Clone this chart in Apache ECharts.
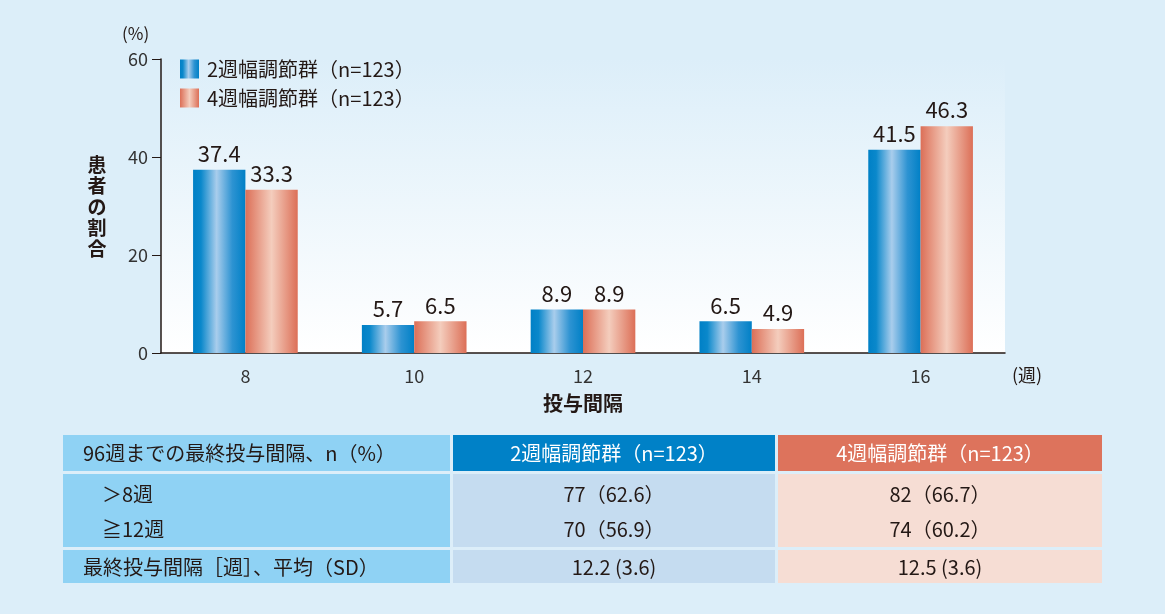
<!DOCTYPE html>
<html>
<head>
<meta charset="utf-8">
<script src="https://cdn.jsdelivr.net/npm/echarts@6/dist/echarts.min.js"></script>
<style>
html,body{margin:0;padding:0;background:#dceef9;}
#box{width:1165px;height:614px;}
</style>
</head>
<body>
<div id="box"></div>
<script>
var categories = ['8', '10', '12', '14', '16'];
var group2w = [37.4, 5.7, 8.9, 6.5, 41.5];
var group4w = [33.3, 6.5, 8.9, 4.9, 46.3];
var seriesNames = ['2週幅調節群（n=123）', '4週幅調節群（n=123）'];
var yTicks = [0, 20, 40, 60];

// table below the chart
var tableHead = ['96週までの最終投与間隔、n（%）', '2週幅調節群（n=123）', '4週幅調節群（n=123）'];
var rowLabels = ['＞8週', '≧12週'];
var rows2w = ['77（62.6）', '70（56.9）'];
var rows4w = ['82（66.7）', '74（60.2）'];
var meanLabel = '最終投与間隔［週］、平均（SD）';
var mean2w = '12.2 (3.6)';
var mean4w = '12.5 (3.6)';

var font = '"Noto Sans CJK JP", "Noto Sans", sans-serif';
var ink = '#231815';

var blueGrad = new echarts.graphic.LinearGradient(0, 0, 1, 0, [
  {offset: 0, color: '#0080c6'},
  {offset: 0.15, color: '#0a88cb'},
  {offset: 0.45, color: '#a9cdec'},
  {offset: 0.75, color: '#2d93d2'},
  {offset: 1, color: '#0080c6'}
]);
var redGrad = new echarts.graphic.LinearGradient(0, 0, 1, 0, [
  {offset: 0, color: '#dc6f57'},
  {offset: 0.5, color: '#f4cdbd'},
  {offset: 1, color: '#dc6f57'}
]);

// table geometry
var colX = [63, 453, 778];
var colW = [387, 322, 324];
var rowY = [435, 474, 550];
var rowH = [36, 73, 33];

function cell(x, y, w, h, c){
  return {type: 'rect', shape: {x: x, y: y, width: w, height: h}, style: {fill: c}, silent: true};
}
function txt(x, y, s, align, color, size){
  return {type: 'text', x: x, y: y, silent: true,
    style: {text: s, font: (size || 20) + 'px ' + font, fill: color || ink, align: align || 'left', verticalAlign: 'middle'}};
}

var graphics = [];
var headC = ['#8fd2f4', '#0081c7', '#dd735c'], bodyC = ['#8fd2f4', '#c5dcf0', '#f6ddd4'];
for (var r = 0; r < 3; r++) {
  for (var c = 0; c < 3; c++) {
    graphics.push(cell(colX[c], rowY[r], colW[c], rowH[r], r == 0 ? headC[c] : bodyC[c]));
  }
}
graphics.push(txt(83, 453, tableHead[0]));
graphics.push(txt(colX[1] + colW[1] / 2, 453, tableHead[1], 'center', '#fff'));
graphics.push(txt(colX[2] + colW[2] / 2, 453, tableHead[2], 'center', '#fff'));
var lineY = [494, 529];
for (var i = 0; i < rowLabels.length; i++) {
  graphics.push(txt(102, lineY[i], rowLabels[i]));
  graphics.push(txt(colX[1] + colW[1] / 2, lineY[i], rows2w[i], 'center'));
  graphics.push(txt(colX[2] + colW[2] / 2, lineY[i], rows4w[i], 'center'));
}
graphics.push(txt(83, 567, meanLabel));
graphics.push(txt(colX[1] + colW[1] / 2, 567, mean2w, 'center'));
graphics.push(txt(colX[2] + colW[2] / 2, 567, mean4w, 'center'));

// axis extras
graphics.push(txt(122, 34, '(%)', 'left', ink, 17));
graphics.push(txt(1012, 375, '(週)', 'left', ink, 18));
graphics.push({type: 'text', x: 97, y: 207, silent: true,
  style: {text: '患\n者\nの\n割\n合', font: 'bold 19px ' + font, fill: ink, align: 'center', verticalAlign: 'middle', lineHeight: 21}});

var mychart = echarts.init(document.getElementById('box'));
var option = {
  backgroundColor: '#dceef9',
  animation: false,
  textStyle: {fontFamily: font},
  grid: {
    left: 161, right: 160, top: 59, bottom: 261,
    show: true, borderWidth: 0,
    backgroundColor: new echarts.graphic.LinearGradient(0, 0, 0, 1, [
      {offset: 0, color: '#dceef9'},
      {offset: 1, color: '#ffffff'}
    ])
  },
  legend: {
    orient: 'vertical', left: 175, top: 54, itemGap: 9,
    itemWidth: 19, itemHeight: 19, icon: 'rect',
    textStyle: {fontSize: 20, color: ink, fontFamily: font, padding: [0, 0, 0, 3]},
    data: seriesNames
  },
  xAxis: {
    type: 'category', data: categories,
    name: '投与間隔', nameLocation: 'middle', nameGap: 40,
    nameTextStyle: {fontSize: 20, fontWeight: 'bold', color: ink},
    axisLine: {lineStyle: {color: ink, width: 1.5}},
    axisTick: {length: 9, lineStyle: {color: ink}},
    axisLabel: {fontSize: 18, color: '#333', margin: 14}
  },
  yAxis: {
    type: 'value', min: 0, max: 60, interval: 20,
    axisLine: {show: true, lineStyle: {color: ink, width: 1.5}},
    axisTick: {show: true, length: 9, lineStyle: {color: ink}},
    splitLine: {show: false},
    axisLabel: {fontSize: 18, color: '#333', margin: 13,
      formatter: function(v){ return yTicks.indexOf(v) >= 0 ? v : ''; }}
  },
  series: [{
    name: seriesNames[0], type: 'bar', data: group2w,
    barGap: '0%', barCategoryGap: '38%',
    itemStyle: {color: blueGrad},
    label: {show: true, position: 'top', fontSize: 22, color: ink, distance: 5}
  }, {
    name: seriesNames[1], type: 'bar', data: group4w,
    itemStyle: {color: redGrad},
    label: {show: true, position: 'top', fontSize: 22, color: ink, distance: 5}
  }],
  graphic: graphics
};
mychart.setOption(option);
</script>
</body>
</html>
